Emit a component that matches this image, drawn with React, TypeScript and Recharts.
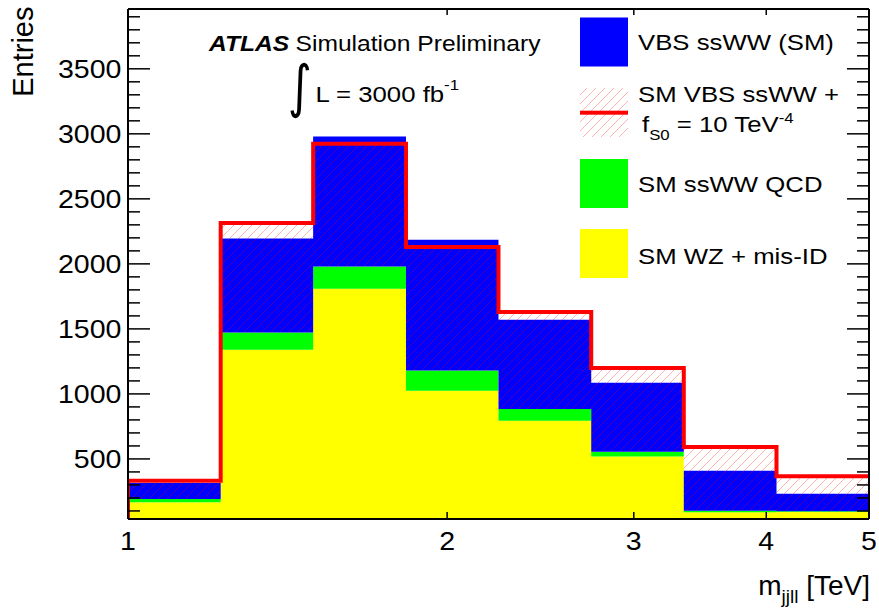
import React from "react";
import { Area, ComposedChart, Line, XAxis, YAxis } from "recharts";

// m_jjll bin edges in TeV (eight bins, equal width on the log axis)
const EDGES = [1, 1.223, 1.495, 1.829, 2.236, 2.735, 3.344, 4.09, 5];

// per-bin entries of each stacked sample
const WZ_MISID = [166, 1340, 1809, 1025, 794, 518, 89, 92];
const SSWW_QCD = [26, 133, 171, 155, 90, 37, 13, 5];
const VBS_SSWW = [123, 722, 999, 1005, 686, 531, 308, 136];

// total with the f_S0 = 10 TeV^-4 signal (red outline)
const VBS_FS0 = [333, 2314, 2923, 2129, 1629, 1199, 592, 366];

const X_TICKS = [1, 2, 3, 4, 5];
const Y_MAJOR = [500, 1000, 1500, 2000, 2500, 3000, 3500];
const Y_DOMAIN: [number, number] = [38, 3960];

const Y_TICKS: number[] = [];
for (let v = 100; v < Y_DOMAIN[1]; v += 100) Y_TICKS.push(v);

const lastBin = EDGES.length - 2;
const rows = EDGES.map((x, i) => {
  const b = Math.min(i, lastBin);
  return {
    x,
    wz: WZ_MISID[b],
    qcd: SSWW_QCD[b],
    vbs: VBS_SSWW[b],
    hatch: [WZ_MISID[b] + SSWW_QCD[b], VBS_FS0[b]],
  };
});

// outline starts from the floor at the first edge
const outline = [{ x: EDGES[0], v: 0 }, ...EDGES.map((x, i) => ({ x, v: VBS_FS0[Math.min(i, lastBin)] }))];

const FONT = '"Liberation Sans", Arial, Helvetica, sans-serif';
const SX = 1.12;
const TICK_W = 1.5;

function LeftTick({ x, y, payload }: any) {
  const major = payload.value % 500 === 0;
  return (
    <g>
      <line x1={x} x2={x + (major ? 22 : 12)} y1={y} y2={y} stroke="#000" strokeWidth={TICK_W} />
      {major && (
        <text
          transform={`translate(${x - 6.5},${y + 9}) scale(${SX},1)`}
          textAnchor="end"
          fontFamily={FONT}
          fontSize={25.5}
          fill="#000"
        >
          {payload.value}
        </text>
      )}
    </g>
  );
}

function RightTick({ x, y, payload }: any) {
  const major = payload.value % 500 === 0;
  return <line x1={x} x2={x - (major ? 22 : 12)} y1={y} y2={y} stroke="#000" strokeWidth={TICK_W} />;
}

function BottomTick({ x, y, payload }: any) {
  const inner = payload.value > 1 && payload.value < 5;
  return (
    <g>
      {inner && <line x1={x} x2={x} y1={y} y2={y - 7} stroke="#000" strokeWidth={TICK_W} />}
      <text
        transform={`translate(${x},${y + 31}) scale(${SX},1)`}
        textAnchor="middle"
        fontFamily={FONT}
        fontSize={25.5}
        fill="#000"
      >
        {payload.value}
      </text>
    </g>
  );
}

function TopTick({ x, y, payload }: any) {
  if (payload.value <= 1 || payload.value >= 5) return <g />;
  return <line x1={x} x2={x} y1={y} y2={y + 6} stroke="#000" strokeWidth={TICK_W} />;
}

const frame = { stroke: "#000", strokeWidth: 2 };

export default function App() {
  return (
    <div
      style={{
        position: "absolute",
        left: 0,
        top: 0,
        width: 879,
        height: 611,
        background: "#fff",
        overflow: "hidden",
      }}
    >
      <ComposedChart width={879} height={611} data={rows} margin={{ top: 4, right: 0, bottom: 42, left: 68 }}>
        <defs>
          <pattern id="fs0Hatch" patternUnits="userSpaceOnUse" width={9} height={9}>
            <path
              d="M0,9 L9,0 M-2,2 L2,-2 M7,11 L11,7"
              stroke="#ff0000"
              strokeOpacity={0.3}
              strokeWidth={1}
            />
          </pattern>
        </defs>
        <Area
          dataKey="wz"
          stackId="bkg"
          type="stepAfter"
          fill="#ffff00"
          fillOpacity={1}
          stroke="none"
          dot={false}
          activeDot={false}
          isAnimationActive={false}
        />
        <Area
          dataKey="qcd"
          stackId="bkg"
          type="stepAfter"
          fill="#00ff00"
          fillOpacity={1}
          stroke="none"
          dot={false}
          activeDot={false}
          isAnimationActive={false}
        />
        <Area
          dataKey="vbs"
          stackId="bkg"
          type="stepAfter"
          fill="#0000ff"
          fillOpacity={1}
          stroke="none"
          dot={false}
          activeDot={false}
          isAnimationActive={false}
        />
        <Area
          dataKey="hatch"
          type="stepAfter"
          fill="url(#fs0Hatch)"
          fillOpacity={1}
          stroke="none"
          dot={false}
          activeDot={false}
          isAnimationActive={false}
        />
        <Line
          data={outline}
          dataKey="v"
          type="stepAfter"
          stroke="#ff0000"
          strokeWidth={4}
          strokeLinejoin="miter"
          strokeLinecap="butt"
          dot={false}
          activeDot={false}
          isAnimationActive={false}
        />
        <XAxis
          dataKey="x"
          type="number"
          scale="log"
          domain={[1, 5]}
          allowDataOverflow
          ticks={X_TICKS}
          interval={0}
          height={50}
          tickSize={0}
          tickMargin={0}
          tickLine={false}
          axisLine={frame}
          tick={(p: any) => <BottomTick {...p} />}
        />
        <XAxis
          xAxisId="top"
          orientation="top"
          dataKey="x"
          type="number"
          scale="log"
          domain={[1, 5]}
          allowDataOverflow
          ticks={X_TICKS}
          interval={0}
          height={5}
          tickSize={0}
          tickMargin={0}
          tickLine={false}
          axisLine={frame}
          tick={(p: any) => <TopTick {...p} />}
        />
        <YAxis
          type="number"
          domain={Y_DOMAIN}
          allowDataOverflow
          ticks={Y_TICKS}
          interval={0}
          width={60}
          tickSize={0}
          tickMargin={0}
          tickLine={false}
          axisLine={frame}
          tick={(p: any) => <LeftTick {...p} />}
        />
        <YAxis
          yAxisId="right"
          orientation="right"
          type="number"
          domain={Y_DOMAIN}
          allowDataOverflow
          ticks={Y_TICKS}
          interval={0}
          width={10}
          tickSize={0}
          tickMargin={0}
          tickLine={false}
          axisLine={frame}
          tick={(p: any) => <RightTick {...p} />}
        />
      </ComposedChart>

      <svg
        width={879}
        height={611}
        style={{ position: "absolute", left: 0, top: 0, pointerEvents: "none" }}
        fontFamily={FONT}
        fill="#000"
      >
        {/* axis titles */}
        <text transform="translate(32.5,6.5) rotate(-90)" textAnchor="end" fontSize={29}>
          Entries
        </text>
        <text x={870} y={595} textAnchor="end" fontSize={28}>
          m
          <tspan fontSize={19} dy={8}>
            jjll
          </tspan>
          <tspan dy={-8}> [TeV]</tspan>
        </text>

        {/* experiment label */}
        <text transform={`translate(209,50.5) scale(${SX},1)`} fontSize={22} fontWeight="bold" fontStyle="italic">
          ATLAS
        </text>
        <text transform={`translate(295.5,50.5) scale(${SX},1)`} fontSize={22}>
          Simulation Preliminary
        </text>
        <text transform="translate(288,106) scale(1,1.25)" fontSize={46} fontFamily='"DejaVu Sans", sans-serif'>
          ∫
        </text>
        <text transform={`translate(315.5,101.7) scale(${SX},1)`} fontSize={23}>
          L = 3000 fb
          <tspan fontSize={15} dy={-12}>
            -1
          </tspan>
        </text>

        {/* legend */}
        <rect x={580} y={17.5} width={48} height={49} fill="#0000ff" />
        <rect x={580} y={88} width={48} height={49} fill="url(#fs0Hatch)" />
        <rect x={580} y={110.7} width={48} height={4} fill="#ff0000" />
        <rect x={580} y={159} width={48} height={49} fill="#00ff00" />
        <rect x={580} y={229} width={48} height={49} fill="#ffff00" />

        <text transform={`translate(638,50) scale(${SX},1)`} fontSize={23}>
          VBS ssWW (SM)
        </text>
        <text transform={`translate(638,101.5) scale(${SX},1)`} fontSize={23}>
          SM VBS ssWW +
        </text>
        <text transform={`translate(642,131.5) scale(${SX},1)`} fontSize={23}>
          f
          <tspan fontSize={15} dy={8}>
            S0
          </tspan>
          <tspan dy={-8}> = 10 TeV</tspan>
          <tspan fontSize={15} dy={-9}>
            -4
          </tspan>
        </text>
        <text transform={`translate(638,191.5) scale(${SX},1)`} fontSize={23}>
          SM ssWW QCD
        </text>
        <text transform={`translate(638,263.5) scale(${SX},1)`} fontSize={23}>
          SM WZ + mis-ID
        </text>
      </svg>
    </div>
  );
}
